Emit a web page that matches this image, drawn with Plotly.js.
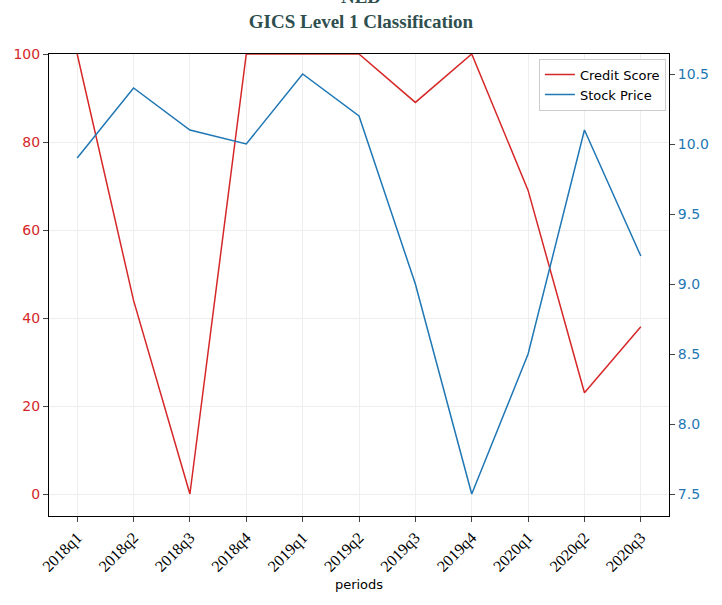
<!DOCTYPE html>
<html>
<head>
<script src="https://cdn.plot.ly/plotly-3.0.1.min.js"></script>
</head>
<body style="margin:0">
<div id="chart" style="width:722px;height:605px"></div>
<script>
let periods = ["2018q1","2018q2","2018q3","2018q4","2019q1","2019q2","2019q3","2019q4","2020q1","2020q2","2020q3"];
let creditScore = [100, 44, 0, 100, 100, 100, 89, 100, 69, 23, 38];
let stockPrice = [9.9, 10.4, 10.1, 10.0, 10.5, 10.2, 9.0, 7.5, 8.5, 10.1, 9.2];

Plotly.newPlot('chart', [{
    x: periods, y: creditScore, name: "Credit Score", mode: 'lines',
    line: {color: '#d62728', width: 1.5}
}, {
    x: periods, y: stockPrice, name: "Stock Price", mode: 'lines', yaxis: 'y2',
    line: {color: '#1f77b4', width: 1.5}
}], {
    width: 722, height: 605,
    margin: {l: 49, r: 53, t: 54, b: 89},
    plot_bgcolor: 'white',
    title: {text: "<b>NED<br>GICS Level 1 Classification</b>", x: 0.5, xanchor: 'center', y: 0.995, yanchor: 'top',
        font: {family: 'Liberation Serif', size: 19, color: '#2F4F4F'}},
    showlegend: true,
    legend: {x: 0.995, y: 0.99, xanchor: 'right', yanchor: 'top', bordercolor: '#ccc', borderwidth: 1,
        font: {family: 'DejaVu Sans', size: 13, color: 'black'}},
    xaxis: {title: {text: "periods", font: {family: 'DejaVu Sans', size: 13, color: 'black'}, standoff: 5},
        tickangle: -45, tickfont: {family: 'Liberation Serif', size: 16, color: 'black'},
        showgrid: true, gridcolor: '#eee', showline: true, linecolor: 'black', mirror: true,
        ticks: 'outside', ticklen: 5, range: [-0.5, 10.5]},
    yaxis: {range: [-5, 100], dtick: 20, tickfont: {family: 'DejaVu Sans', size: 14, color: '#d62728'},
        showgrid: true, gridcolor: '#eee', showline: true, linecolor: 'black', ticks: 'outside', ticklen: 5, zeroline: false},
    yaxis2: {overlaying: 'y', side: 'right', range: [7.343, 10.643], dtick: 0.5, tickformat: '.1f',
        tickfont: {family: 'DejaVu Sans', size: 14, color: '#1f77b4'},
        showgrid: false, showline: true, linecolor: 'black', ticks: 'outside', ticklen: 5, zeroline: false}
}, {displayModeBar: false});
</script>
</body>
</html>
